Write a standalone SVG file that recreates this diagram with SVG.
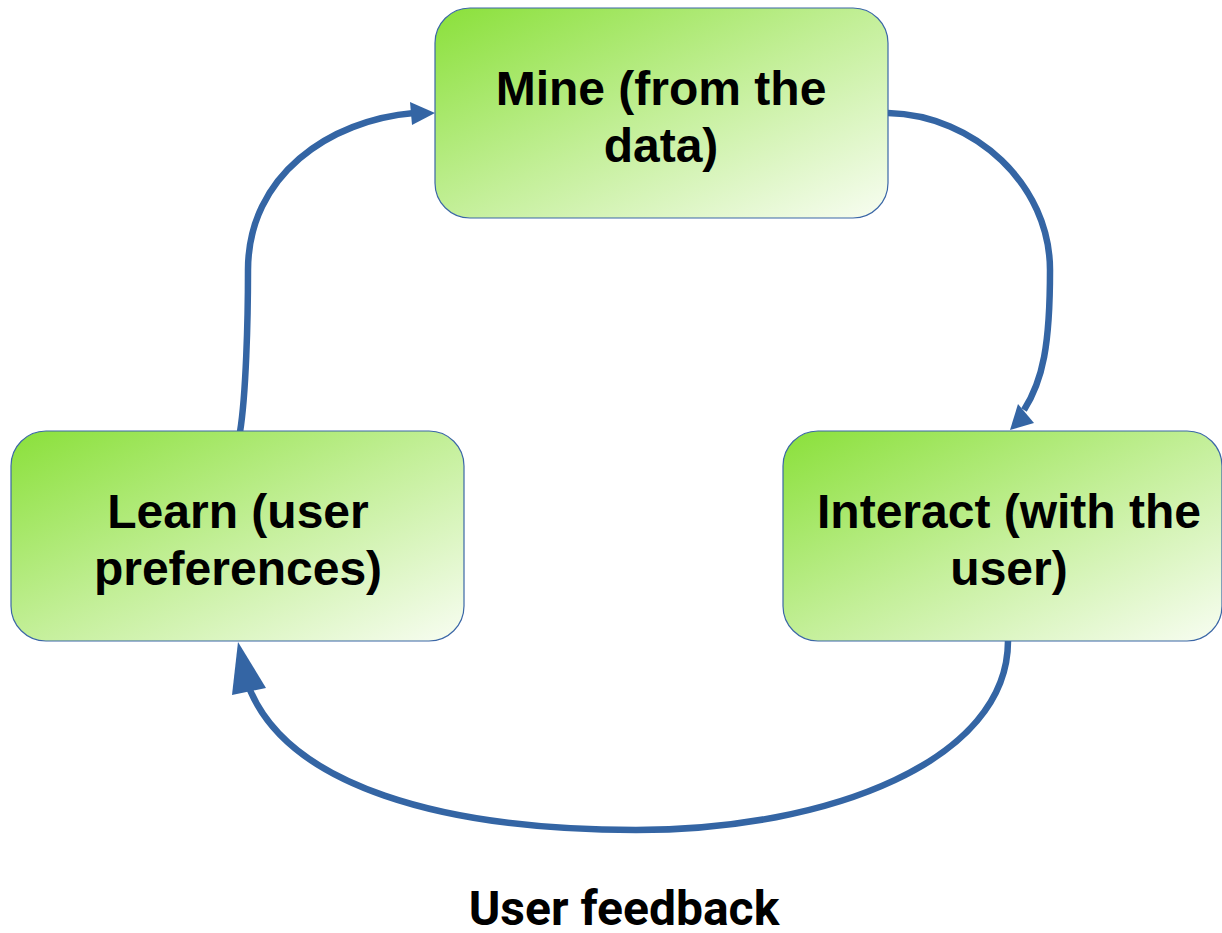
<svg xmlns="http://www.w3.org/2000/svg" width="1222" height="933" viewBox="0 0 1222 933">
  <defs>
    <linearGradient id="boxFill" x1="0" y1="0" x2="1" y2="1">
      <stop offset="0" stop-color="#8ae03a"/>
      <stop offset="0.5" stop-color="#c3ef98"/>
      <stop offset="1" stop-color="#f8fdf2"/>
    </linearGradient>
    <style>
      .box { fill: url(#boxFill); stroke: #3b67a6; stroke-width: 1.2; }
      .label { font-family: "Liberation Sans", Arial, sans-serif; font-weight: bold; font-size: 48px; fill: #000; text-anchor: middle; }
      .caption { font-family: Roboto, "Liberation Sans", sans-serif; font-weight: bold; font-size: 48px; fill: #000; text-anchor: middle; }
      .wire { fill: none; stroke: #3465a4; stroke-width: 6.5; }
      .head { fill: #3465a4; }
    </style>
  </defs>
  <rect width="1222" height="933" fill="#fff"/>

  <g id="connectors">
    <!-- Learn -> Mine -->
    <path class="wire" d="M240,432 C246,395 248,320 248,270 C248,175 330,120 414,113"/>
    <polygon class="head" points="435,113 410,102 412,125"/>
    <!-- Mine -> Interact -->
    <path class="wire" d="M888,113 C975,115 1050,185 1050,270 C1050,345 1043,380 1024,410"/>
    <polygon class="head" points="1010,430 1018,404 1034,423"/>
    <!-- Interact -> Learn -->
    <path class="wire" d="M1008,641 C1008,760 830,830 636,830 C440,830 290,785 250,690"/>
    <polygon class="head" points="238,642 232,695 266,688"/>
  </g>

  <g id="node-mine">
    <rect class="box" x="435" y="8" width="453" height="210" rx="35"/>
    <text class="label" x="661" y="105">Mine (from the</text>
    <text class="label" x="661" y="162">data)</text>
  </g>

  <g id="node-learn">
    <rect class="box" x="11" y="431" width="453" height="210" rx="35"/>
    <text class="label" x="238" y="528">Learn (user</text>
    <text class="label" x="238" y="585">preferences)</text>
  </g>

  <g id="node-interact">
    <rect class="box" x="783" y="431" width="439" height="210" rx="35"/>
    <text class="label" x="1009" y="528">Interact (with the</text>
    <text class="label" x="1009" y="585">user)</text>
  </g>

  <g id="caption">
    <text class="caption" x="624" y="925">User feedback</text>
  </g>
</svg>
